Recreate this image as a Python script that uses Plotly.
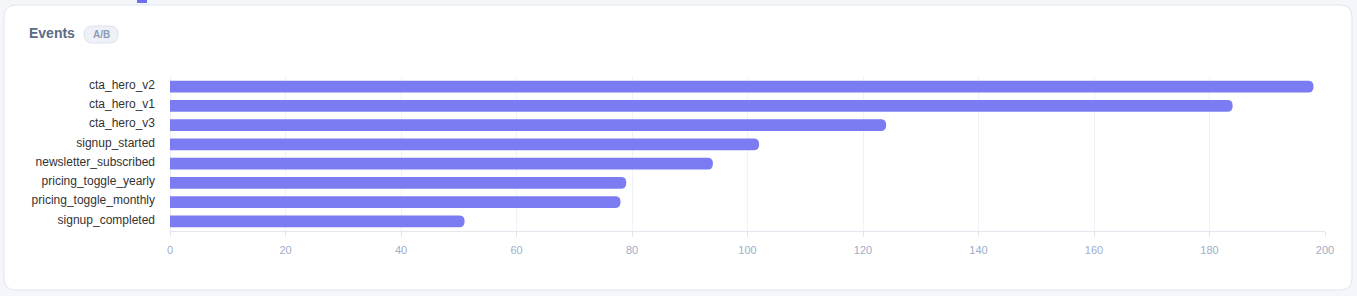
import plotly.graph_objects as go

W, H = 1357, 296

categories = ["cta_hero_v2", "cta_hero_v1", "cta_hero_v3", "signup_started",
              "newsletter_subscribed", "pricing_toggle_yearly",
              "pricing_toggle_monthly", "signup_completed"]
values = [198, 184, 124, 102, 94, 79, 78, 51]
x_ticks = [0, 20, 40, 60, 80, 100, 120, 140, 160, 180, 200]
title_text = "Events"
badge_text = "A/B"


def px(x, y):
    return x / W, 1 - y / H


def rrect(x0, y0, x1, y1, r):
    def p(x, y):
        a, b = px(x, y)
        return f"{a:.6f},{b:.6f}"
    d = (f"M {p(x0 + r, y0)} L {p(x1 - r, y0)} Q {p(x1, y0)} {p(x1, y0 + r)} "
         f"L {p(x1, y1 - r)} Q {p(x1, y1)} {p(x1 - r, y1)} "
         f"L {p(x0 + r, y1)} Q {p(x0, y1)} {p(x0, y1 - r)} "
         f"L {p(x0, y0 + r)} Q {p(x0, y0)} {p(x0 + r, y0)} Z")
    return d


PLOT_L, PLOT_R, PLOT_T, PLOT_B = 170, 1325, 77, 231

fig = go.Figure(go.Bar(
    x=values, y=categories, orientation="h",
    marker=dict(color="#7b7cf2", line=dict(width=0)),
    hoverinfo="x+y",
))

shapes = [
    dict(type="path", xref="paper", yref="paper", path=rrect(4, 5, 1352, 290, 12),
         fillcolor="#ffffff", line=dict(color="#dfe5ef", width=1), layer="below"),
    dict(type="path", xref="paper", yref="paper", path=rrect(84, 26, 118, 43, 8.5),
         fillcolor="#eef2f8", line=dict(color="#dbe2ed", width=1), layer="above"),
    dict(type="rect", xref="paper", yref="paper",
         x0=137 / W, x1=147 / W, y0=1 - 3 / H, y1=1.0,
         fillcolor="#6f70f0", line=dict(width=0)),
]

annotations = [
    dict(text=f"<b>{title_text}</b>", xref="paper", yref="paper",
         x=27 / W, y=1 - 33 / H, xanchor="left", yanchor="middle",
         showarrow=False, font=dict(family="Liberation Sans, Arial", size=14, color="#5b6b86")),
    dict(text=f"<b>{badge_text}</b>", xref="paper", yref="paper",
         x=101 / W, y=1 - 34.5 / H, xanchor="center", yanchor="middle",
         showarrow=False, font=dict(family="Liberation Sans, Arial", size=10, color="#8d9bb5")),
]

fig.update_layout(
    width=W, height=H,
    margin=dict(l=0, r=0, t=0, b=0),
    paper_bgcolor="#f4f6fa",
    plot_bgcolor="rgba(0,0,0,0)",
    showlegend=False,
    bargap=0.38,
    barcornerradius=6,
    shapes=shapes,
    annotations=annotations,
    font=dict(family="Liberation Sans, Arial"),
    xaxis=dict(
        domain=[PLOT_L / W, PLOT_R / W],
        range=[0, 200], tickvals=x_ticks,
        showgrid=True, gridcolor="#f0f2f7", gridwidth=1,
        zeroline=True, zerolinecolor="#eceef3", zerolinewidth=1,
        showline=True, linecolor="#e3e6ec", linewidth=1,
        ticks="outside", ticklen=5, tickcolor="#e3e6ec",
        ticklabelstandoff=4,
        tickfont=dict(size=11, color="#9eadc8"),
        automargin=False, fixedrange=True,
    ),
    yaxis=dict(
        domain=[1 - PLOT_B / H, 1 - PLOT_T / H],
        categoryorder="array", categoryarray=categories[::-1],
        showgrid=False, zeroline=False, showline=False,
        ticks="", ticklabelstandoff=14, ticklabelshift=-2,
        tickfont=dict(size=12, color="#333333"),
        automargin=False, fixedrange=True,
    ),
)

fig.write_html("out.html")
